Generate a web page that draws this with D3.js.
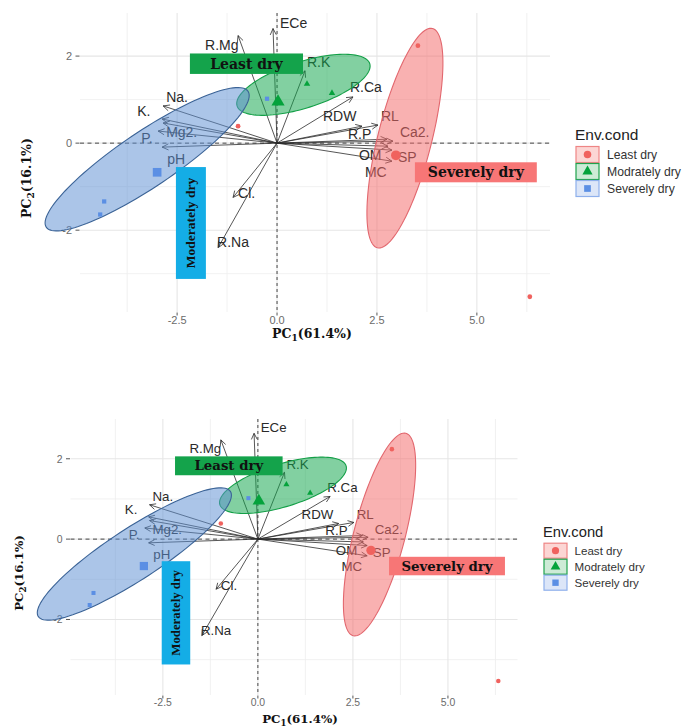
<!DOCTYPE html>
<html>
<head>
<meta charset="utf-8">
<script src="https://cdn.jsdelivr.net/npm/d3@7"></script>
<style>
  body { margin: 0; background: #fff; }
  svg { display: block; }
</style>
</head>
<body>
<svg id="chart" width="685" height="727"></svg>
<script>
// ---------------- data ----------------
const groupNames = ["Least dry", "Modrately dry", "Severely dry"];

// individuals (PC scores)
const indGroup = ["Least dry", "Least dry", "Least dry",
                  "Modrately dry", "Modrately dry",
                  "Severely dry", "Severely dry", "Severely dry"];
const indPC1 = [3.525, 6.325, -0.975, 0.75, 1.375, -0.25, -4.325, -4.425];
const indPC2 = [2.24, -3.53, 0.39, 1.36, 1.15, 1.02, -1.34, -1.64];

// group centroids
const meanPC1 = [2.975, 0.025, -3.0];
const meanPC2 = [-0.28, 0.95, -0.67];

// concentration ellipses: centre and two semi-axis vectors (PC units)
const ellCx = [3.2, 0.66, -3.25];
const ellCy = [0.115, 1.34, -0.37];
const ellAx = [0.69, 1.66, 2.525];
const ellAy = [2.52, 0.485, 1.56];
const ellBx = [0.654, 0.173, 0.382];
const ellBy = [-0.152, -0.507, -0.528];

// variable loadings (arrow tips)
const varNames = ["ECe", "R.Mg", "R.K", "R.Ca", "RDW", "RL", "R.P", "Ca2.", "OM", "SP", "MC",
                  "Na.", "K.", "Mg2.", "P.", "pH", "Cl.", "R.Na"];
const varPC1 = [-0.1, -0.975, 0.7, 1.9, 2.125, 2.525, 2.75, 2.9, 2.775, 2.875, 2.875,
                -2.85, -2.875, -2.975, -2.85, -2.875, -1.1, -1.475];
const varPC2 = [2.633, 2.471, 1.663, 1.062, 0.39, 0.415, 0.09, 0.046, -0.07, -0.16, -0.415,
                0.855, 0.554, 0.277, 0.462, -0.092, -1.247, -2.402];

// axis ticks
const xTicks = [-2.5, 0, 2.5, 5.0];
const xTickLabels = ["-2.5", "0.0", "2.5", "5.0"];
const yTicks = [-2, 0, 2];
const yTickLabels = ["-2", "0", "2"];

// group annotations (PC units)
const annText = ["Least dry", "Moderately dry", "Severely dry"];
const annX0 = [-2.18, -2.53, 3.45];
const annX1 = [0.65, -1.78, 6.5];
const annY0 = [1.59, -3.12, -0.9];
const annY1 = [2.06, -0.55, -0.44];

// ---------------- layout & style ----------------
const xDomain = [-4.93, 6.83];
const yDomain = [-3.88, 2.99];
const xMinor = [-3.75, -1.25, 1.25, 3.75, 6.25];
const yMinor = [-3, -1, 1];

// repelled label anchors (start, baseline) in PC units
const labelAt = {
  "ECe": [0.075, 2.656], "R.Mg": [-1.8, 2.148], "R.K": [0.75, 1.755], "R.Ca": [1.825, 1.178],
  "RDW": [1.15, 0.508], "RL": [2.6, 0.508], "R.P": [1.775, 0.092], "Ca2.": [3.075, 0.139],
  "OM": [2.05, -0.393], "SP": [3.025, -0.439], "MC": [2.2, -0.785],
  "Na.": [-2.775, 0.947], "K.": [-3.5, 0.624], "Mg2.": [-2.775, 0.139], "P.": [-3.4, 0.0],
  "pH": [-2.75, -0.485], "Cl.": [-0.975, -1.27], "R.Na": [-1.5, -2.379]
};

const pointColor = { "Least dry": "#F0625E", "Modrately dry": "#05A23C", "Severely dry": "#5B8FE4" };
const ellFill   = { "Least dry": "#F36A6A", "Modrately dry": "#0FA44B", "Severely dry": "#5E8FD2" };
const ellStroke = { "Least dry": "#E2676E", "Modrately dry": "#139F47", "Severely dry": "#3B6396" };
const keyFill   = { "Least dry": "#FCD6D4", "Modrately dry": "#CDEBD6", "Severely dry": "#DCE6F8" };
const keyStroke = { "Least dry": "#EE8585", "Modrately dry": "#1FA24C", "Severely dry": "#8EB0EC" };
const annFill = ["#14A34B", "#14ADE6", "#F77676"];

const sansFont = "'Liberation Sans', Arial, sans-serif";
const serifBold = "'DejaVu Serif', serif";
const timesFont = "'Liberation Serif', 'Times New Roman', serif";

const panels = [
  { left: 80, right: 550, top: 13, bottom: 312, k: 1,
    xTitle: [312, 338], yTitle: [31, 178], legend: [575, 140], keyW: 23, keyH: 17 },
  { left: 70.5, right: 517.5, top: 419, bottom: 695, k: 0.95,
    xTitle: [300, 723], yTitle: [23, 573], legend: [543, 537], keyW: 23, keyH: 16 }
];

const svg = d3.select("#chart");

function drawBiplot(cfg) {
  const k = cfg.k;
  const g = svg.append("g");
  const x = d3.scaleLinear().domain(xDomain).range([cfg.left, cfg.right]);
  const y = d3.scaleLinear().domain(yDomain).range([cfg.bottom, cfg.top]);

  // grid
  const grid = g.append("g");
  grid.selectAll(".vmin").data(xMinor).join("line")
    .attr("x1", d => x(d)).attr("x2", d => x(d)).attr("y1", cfg.top).attr("y2", cfg.bottom)
    .attr("stroke", "#ededed").attr("stroke-width", 0.8);
  grid.selectAll(".hmin").data(yMinor).join("line")
    .attr("y1", d => y(d)).attr("y2", d => y(d)).attr("x1", cfg.left).attr("x2", cfg.right)
    .attr("stroke", "#ededed").attr("stroke-width", 0.8);
  grid.selectAll(".vmaj").data(xTicks).join("line")
    .attr("x1", d => x(d)).attr("x2", d => x(d)).attr("y1", cfg.top).attr("y2", cfg.bottom)
    .attr("stroke", "#e6e6e6").attr("stroke-width", 1.1);
  grid.selectAll(".hmaj").data(yTicks).join("line")
    .attr("y1", d => y(d)).attr("y2", d => y(d)).attr("x1", cfg.left).attr("x2", cfg.right)
    .attr("stroke", "#e6e6e6").attr("stroke-width", 1.1);

  // axis ticks and labels
  const ax = g.append("g").attr("font-family", sansFont).attr("fill", "#6b6b6b");
  ax.selectAll(".xt").data(xTicks).join("line")
    .attr("x1", d => x(d)).attr("x2", d => x(d))
    .attr("y1", cfg.bottom + 0.5).attr("y2", cfg.bottom + 3.5)
    .attr("stroke", "#555").attr("stroke-width", 1);
  ax.selectAll(".xl").data(xTicks).join("text")
    .attr("x", d => x(d)).attr("y", cfg.bottom + 11.5 * k)
    .attr("text-anchor", "middle").attr("font-size", 11 * k)
    .text((d, i) => xTickLabels[i]);
  ax.selectAll(".yt").data(yTicks).join("line")
    .attr("x1", cfg.left - 4.5).attr("x2", cfg.left - 0.5)
    .attr("y1", d => y(d)).attr("y2", d => y(d))
    .attr("stroke", "#555").attr("stroke-width", 1);
  ax.selectAll(".yl").data(yTicks).join("text")
    .attr("x", cfg.left - 8).attr("y", d => y(d) + 4 * k)
    .attr("text-anchor", "end").attr("font-size", 11 * k)
    .text((d, i) => yTickLabels[i]);

  // reference lines through the origin
  g.append("line")
    .attr("x1", cfg.left).attr("x2", cfg.right).attr("y1", y(0)).attr("y2", y(0))
    .attr("stroke", "#333").attr("stroke-width", 0.9).attr("stroke-dasharray", "4,3.5");
  g.append("line")
    .attr("x1", x(0)).attr("x2", x(0)).attr("y1", cfg.top).attr("y2", cfg.bottom)
    .attr("stroke", "#333").attr("stroke-width", 0.9).attr("stroke-dasharray", "3,3");

  // variable arrows
  const ox = x(0), oy = y(0);
  const vars = varNames.map((n, i) => ({ name: n, tx: x(varPC1[i]), ty: y(varPC2[i]) }));
  const arrows = g.append("g").attr("stroke", "#2b2b2b").attr("stroke-width", 0.8).attr("fill", "none");
  arrows.selectAll("line").data(vars).join("line")
    .attr("x1", ox).attr("y1", oy).attr("x2", d => d.tx).attr("y2", d => d.ty);
  const head = 7 * k, ang = Math.PI / 7;
  arrows.selectAll("path").data(vars).join("path")
    .attr("d", d => {
      const a = Math.atan2(d.ty - oy, d.tx - ox);
      const p1 = [d.tx - head * Math.cos(a - ang), d.ty - head * Math.sin(a - ang)];
      const p2 = [d.tx - head * Math.cos(a + ang), d.ty - head * Math.sin(a + ang)];
      return `M${p1[0]},${p1[1]}L${d.tx},${d.ty}L${p2[0]},${p2[1]}`;
    });
  g.append("g").attr("font-family", sansFont).attr("font-size", 14 * k).attr("fill", "#2a2a2a")
    .selectAll("text").data(varNames).join("text")
    .attr("x", d => x(labelAt[d][0])).attr("y", d => y(labelAt[d][1]))
    .text(d => d);

  // ellipses
  const ellLine = d3.line().x(d => x(d[0])).y(d => y(d[1])).curve(d3.curveLinearClosed);
  groupNames.forEach((gn, i) => {
    const pts = d3.range(0, 360, 3).map(t => {
      const r = t * Math.PI / 180;
      return [ellCx[i] + Math.cos(r) * ellAx[i] + Math.sin(r) * ellBx[i],
              ellCy[i] + Math.cos(r) * ellAy[i] + Math.sin(r) * ellBy[i]];
    });
    g.append("path").attr("d", ellLine(pts))
      .attr("fill", ellFill[gn]).attr("fill-opacity", 0.52)
      .attr("stroke", ellStroke[gn]).attr("stroke-width", 1.1);
  });

  // individuals and centroids
  const sym = { "Least dry": d3.symbolCircle, "Modrately dry": d3.symbolTriangle, "Severely dry": d3.symbolSquare };
  const inds = indGroup.map((gr, i) => ({ g: gr, px: x(indPC1[i]), py: y(indPC2[i]) }));
  g.append("g").selectAll("path").data(inds).join("path")
    .attr("transform", d => `translate(${d.px},${d.py})`)
    .attr("d", d => d3.symbol().type(sym[d.g]).size(18 * k * k)())
    .attr("fill", d => pointColor[d.g]);
  g.append("g").selectAll("path").data(groupNames).join("path")
    .attr("transform", (d, i) => `translate(${x(meanPC1[i])},${y(meanPC2[i])})`)
    .attr("d", d => d3.symbol().type(sym[d]).size(75 * k * k)())
    .attr("fill", d => pointColor[d]);

  // group annotation boxes
  annText.forEach((t, i) => {
    const bx = x(annX0[i]), bw = x(annX1[i]) - x(annX0[i]);
    const by = y(annY1[i]), bh = y(annY0[i]) - y(annY1[i]);
    g.append("rect").attr("x", bx).attr("y", by).attr("width", bw).attr("height", bh)
      .attr("fill", annFill[i]);
    const cx = bx + bw / 2, cy = by + bh / 2;
    if (bh > bw) {
      g.append("text")
        .attr("transform", `translate(${cx + 4.5 * k},${cy}) rotate(-90)`)
        .attr("text-anchor", "middle").attr("font-family", timesFont).attr("font-weight", "bold")
        .attr("font-size", 13.5 * k).attr("fill", "#111").text(t);
    } else {
      g.append("text").attr("x", cx).attr("y", cy + 4.8 * k)
        .attr("text-anchor", "middle").attr("font-family", serifBold).attr("font-weight", "bold")
        .attr("font-size", 14 * k).attr("fill", "#111").text(t);
    }
  });

  // axis titles
  const xt = g.append("text").attr("x", cfg.xTitle[0]).attr("y", cfg.xTitle[1])
    .attr("text-anchor", "middle").attr("font-family", serifBold).attr("font-weight", "bold")
    .attr("font-size", 12.5 * k).attr("fill", "#111");
  xt.append("tspan").text("PC");
  xt.append("tspan").attr("font-size", 9 * k).attr("dy", 3 * k).text("1");
  xt.append("tspan").attr("dy", -3 * k).text("(61.4%)");
  const yt = g.append("text")
    .attr("transform", `translate(${cfg.yTitle[0]},${cfg.yTitle[1]}) rotate(-90)`)
    .attr("text-anchor", "middle").attr("font-family", serifBold).attr("font-weight", "bold")
    .attr("font-size", 12.5 * k).attr("fill", "#111");
  yt.append("tspan").text("PC");
  yt.append("tspan").attr("font-size", 9 * k).attr("dy", 3 * k).text("2");
  yt.append("tspan").attr("dy", -3 * k).text("(16.1%)");

  // legend
  const lg = g.append("g").attr("font-family", sansFont);
  lg.append("text").attr("x", cfg.legend[0]).attr("y", cfg.legend[1])
    .attr("font-size", 15.5 * k).attr("fill", "#222").text("Env.cond");
  groupNames.forEach((gn, i) => {
    const ky = cfg.legend[1] + 6 * k + i * cfg.keyH;
    lg.append("rect").attr("x", cfg.legend[0] + 1).attr("y", ky + 0.5)
      .attr("width", cfg.keyW).attr("height", cfg.keyH - 1)
      .attr("fill", keyFill[gn]).attr("stroke", keyStroke[gn]).attr("stroke-width", 1.2);
    lg.append("path")
      .attr("transform", `translate(${cfg.legend[0] + 1 + cfg.keyW / 2},${ky + cfg.keyH / 2})`)
      .attr("d", d3.symbol().type(sym[gn]).size(45 * k * k)())
      .attr("fill", pointColor[gn]);
    lg.append("text").attr("x", cfg.legend[0] + cfg.keyW + 9 * k).attr("y", ky + cfg.keyH / 2 + 4.3 * k)
      .attr("font-size", 12.2 * k).attr("fill", "#333").text(gn);
  });
}

panels.forEach(drawBiplot);
</script>
</body>
</html>
